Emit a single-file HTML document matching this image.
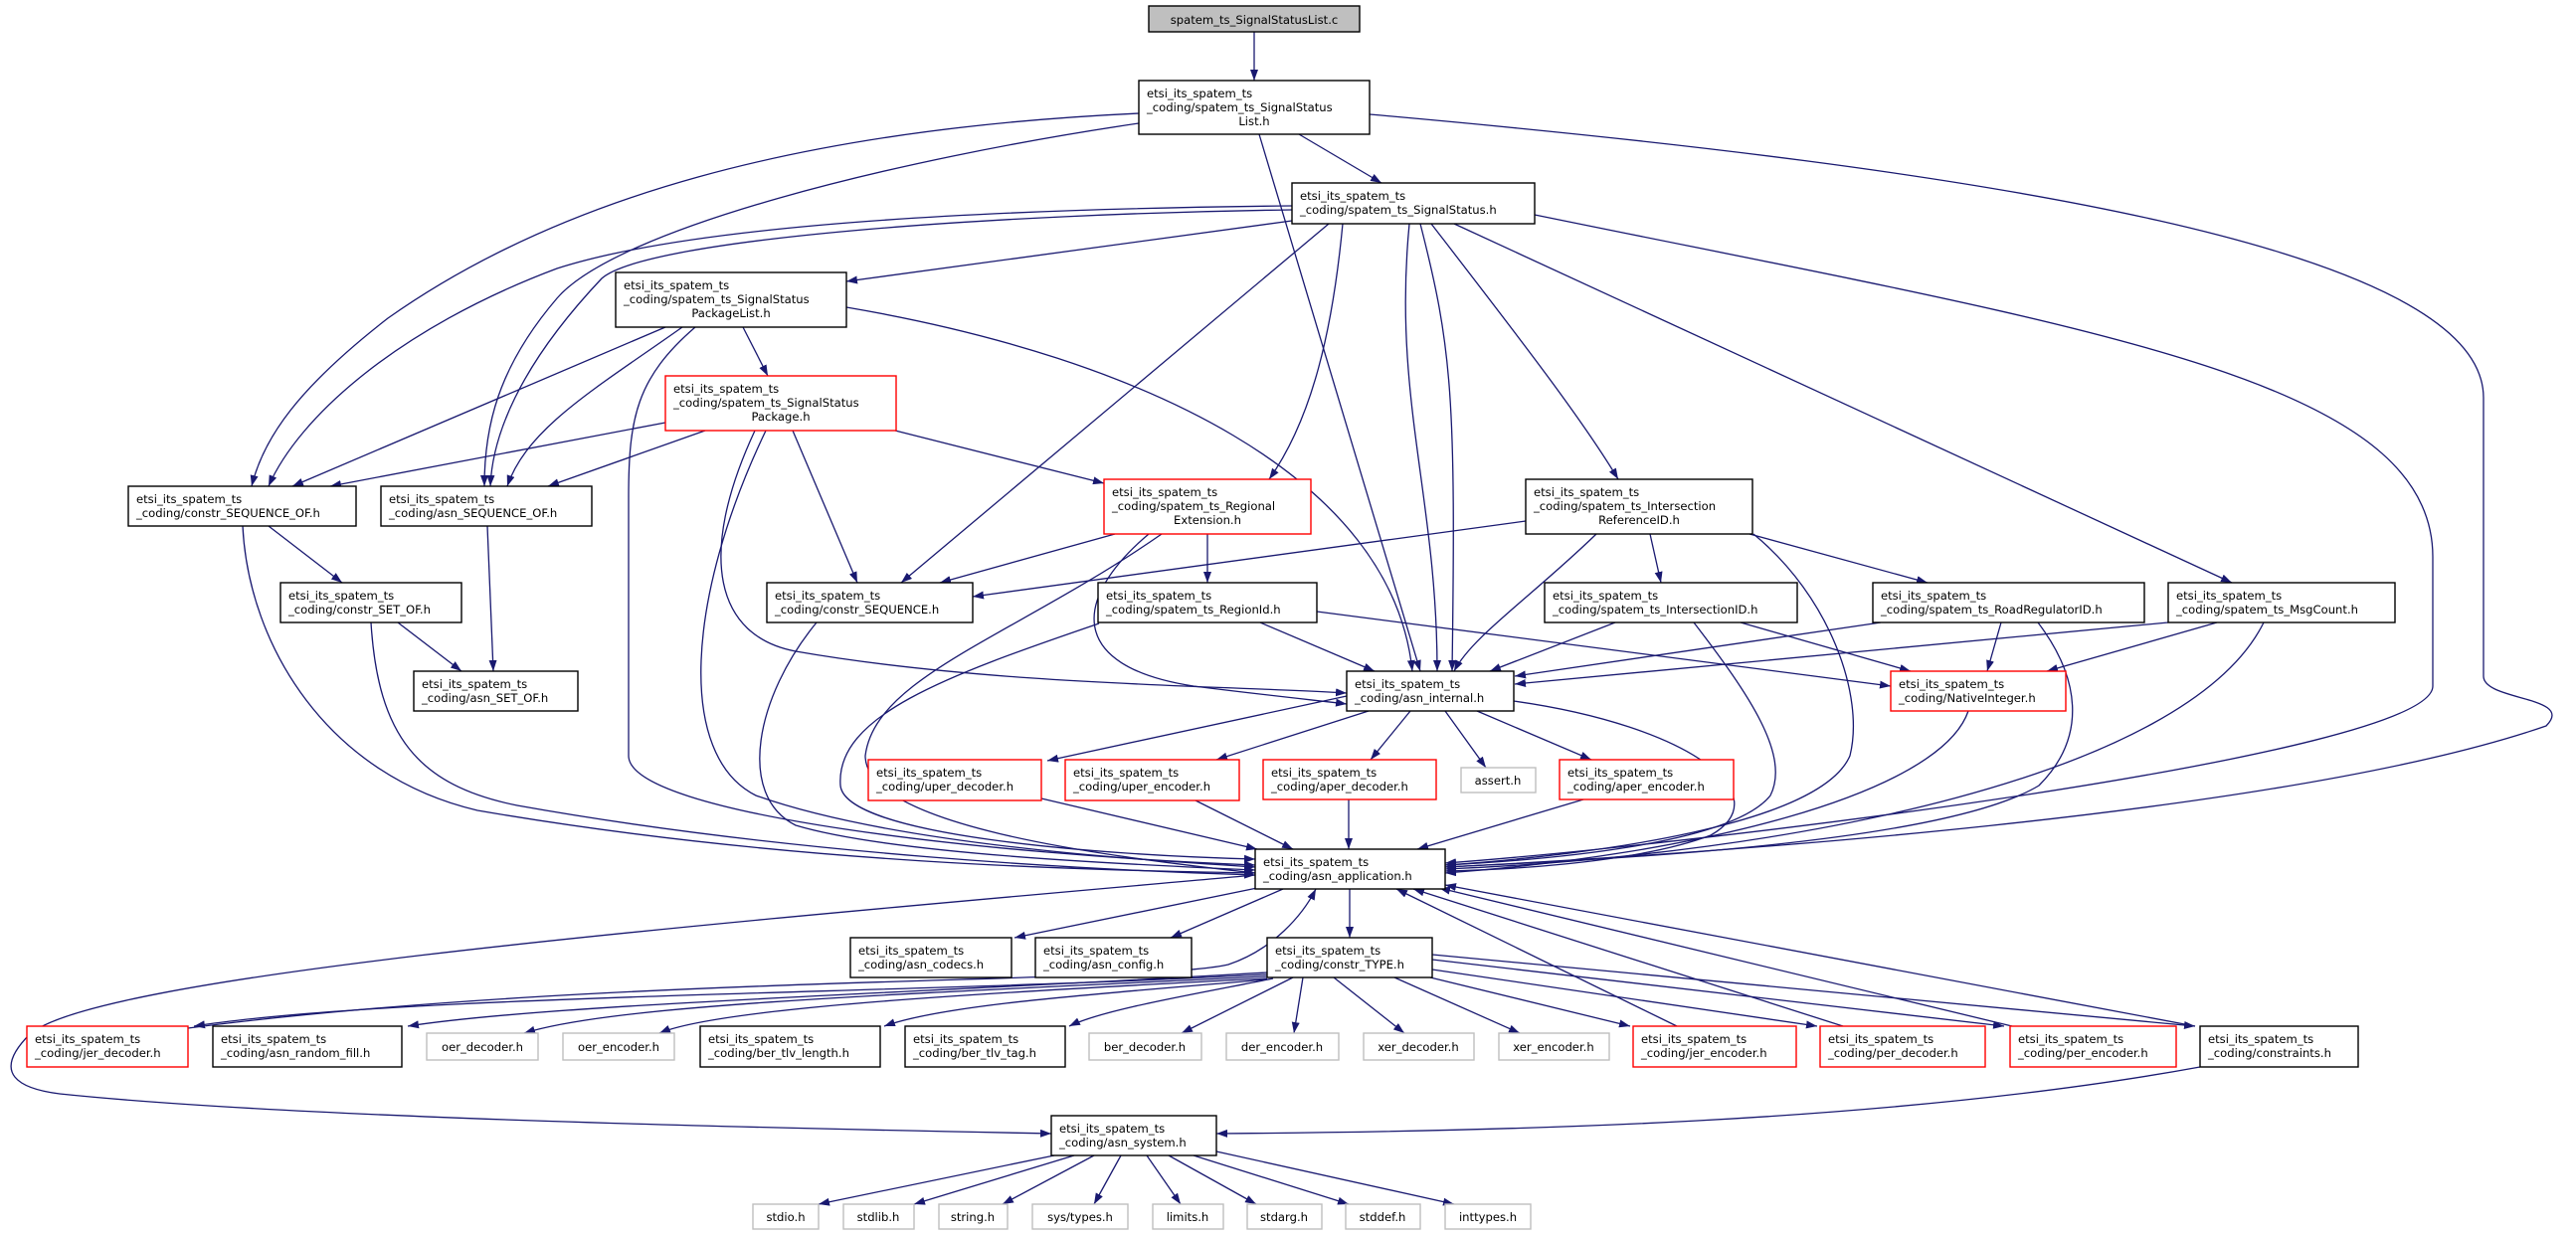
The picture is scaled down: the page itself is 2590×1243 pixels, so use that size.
<!DOCTYPE html>
<html><head><meta charset="utf-8"><style>
html,body{margin:0;padding:0;background:#fff;}
svg{display:block}
text{font-family:"DejaVu Sans","Liberation Sans",sans-serif;font-size:11.6px;fill:#000}
.b{fill:#fff;stroke:#000;stroke-width:1.4}
.r{fill:#fff;stroke:#ff0000;stroke-width:1.4}
.g{fill:#fff;stroke:#bfbfbf;stroke-width:1.4}
.e{fill:none;stroke:#191970;stroke-width:1.3;marker-end:url(#a)}
</style></head><body>
<svg width="2590" height="1243" viewBox="0 0 2590 1243" xmlns="http://www.w3.org/2000/svg">
<defs><marker id="a" markerUnits="userSpaceOnUse" markerWidth="11" markerHeight="8" refX="11" refY="4" orient="auto"><path d="M0,0 L11,4 L0,8 z" fill="#191970"/></marker></defs>
<g>
<path class="e" d="M1261 32 L1261 81"/>
<path class="e" d="M1306 135 L1389 184"/>
<path class="e" d="M1145 114 C800 130,560 200,390 320 C300 390,265 440,253 489"/>
<path class="e" d="M1145 124 C900 160,620 230,560 300 C500 370,487 430,487 489"/>
<path class="e" d="M1266 135 L1428 675"/>
<path class="e" d="M1377 115 C2000 170,2497 250,2497 400 L2497 680 C2497 705,2590 700,2560 730 C2300 820,1700 860,1453 872"/>
<path class="e" d="M1543 216 C2100 330,2446 380,2446 560 L2446 690 C2446 760,1700 850,1453 868"/>
<path class="e" d="M1299 222 L851 283"/>
<path class="e" d="M1299 207 C1000 210,700 225,560 270 C400 330,300 420,270 489"/>
<path class="e" d="M1299 211 C1000 215,650 240,605 280 C520 370,495 440,493 489"/>
<path class="e" d="M1336 225 L906 586"/>
<path class="e" d="M797 433 L862 586"/>
<path class="e" d="M1121 537 L945 586"/>
<path class="e" d="M1534 524 L978 600"/>
<path class="e" d="M1350 225 C1340 330,1320 420,1276 482"/>
<path class="e" d="M1417 225 C1400 400,1445 500,1445 675"/>
<path class="e" d="M1428 225 C1460 350,1464 400,1460 675"/>
<path class="e" d="M1439 225 C1520 330,1590 420,1627 482"/>
<path class="e" d="M1462 225 L2244 586"/>
<path class="e" d="M747 329 L772 378"/>
<path class="e" d="M669 329 L294 489"/>
<path class="e" d="M686 329 C600 390,530 430,510 489"/>
<path class="e" d="M851 309 C1150 360,1400 480,1420 675"/>
<path class="e" d="M699 329 C640 380,632 420,632 500 L632 760 C632 820,1000 860,1262 870"/>
<path class="e" d="M669 425 L332 489"/>
<path class="e" d="M709 433 L551 489"/>
<path class="e" d="M900 433 L1110 486"/>
<path class="e" d="M759 433 C700 560,720 640,800 655 C1000 690,1250 690,1354 697"/>
<path class="e" d="M770 433 C690 600,680 760,760 800 C900 850,1150 865,1262 872"/>
<path class="e" d="M1214 537 L1214 586"/>
<path class="e" d="M1155 537 C1080 600,1070 670,1200 690 C1280 700,1330 705,1354 708"/>
<path class="e" d="M1168 537 C1020 640,880 680,870 760 C870 830,1100 860,1262 878"/>
<path class="e" d="M270 529 L344 586"/>
<path class="e" d="M244 529 C250 650,330 780,480 815 C800 870,1100 875,1262 878"/>
<path class="e" d="M490 529 L496 675"/>
<path class="e" d="M400 626 L464 675"/>
<path class="e" d="M373 626 C380 740,420 790,520 810 C800 860,1100 875,1262 880"/>
<path class="e" d="M821 626 C760 700,740 800,800 830 C900 860,1150 870,1262 875"/>
<path class="e" d="M1267 626 L1382 675"/>
<path class="e" d="M1324 615 L1901 690"/>
<path class="e" d="M1105 627 C950 680,840 720,845 790 C850 840,1100 860,1262 864"/>
<path class="e" d="M1605 537 C1540 600,1480 640,1462 675"/>
<path class="e" d="M1659 537 L1670 586"/>
<path class="e" d="M1759 537 L1938 586"/>
<path class="e" d="M1763 537 C1840 600,1875 700,1860 760 C1830 830,1600 860,1453 870"/>
<path class="e" d="M1624 626 L1498 675"/>
<path class="e" d="M1750 626 L1921 675"/>
<path class="e" d="M1703 626 C1760 700,1800 760,1780 800 C1740 850,1550 865,1453 870"/>
<path class="e" d="M1891 626 L1523 680"/>
<path class="e" d="M2012 626 L1998 675"/>
<path class="e" d="M2049 626 C2090 680,2100 740,2050 790 C1950 850,1600 865,1453 872"/>
<path class="e" d="M2180 626 L1523 688"/>
<path class="e" d="M2229 626 L2058 675"/>
<path class="e" d="M2276 626 C2200 780,1800 860,1453 874"/>
<path class="e" d="M1979 715 C1950 800,1700 860,1453 878"/>
<path class="e" d="M1354 700 L1053 765"/>
<path class="e" d="M1376 715 L1223 764"/>
<path class="e" d="M1418 715 L1378 764"/>
<path class="e" d="M1453 715 L1494 772"/>
<path class="e" d="M1485 715 L1600 764"/>
<path class="e" d="M1522 705 C1700 730,1790 800,1720 840 C1640 870,1500 875,1453 876"/>
<path class="e" d="M1047 803 L1264 854"/>
<path class="e" d="M1202 805 L1300 854"/>
<path class="e" d="M1356 804 L1356 854"/>
<path class="e" d="M1592 804 L1425 854"/>
<path class="e" d="M1264 893 L1020 943"/>
<path class="e" d="M1290 894 L1177 943"/>
<path class="e" d="M1357 894 L1357 943"/>
<path class="e" d="M1262 880 C700 930,100 980,30 1040 C-10 1080,20 1095,60 1100 C300 1125,800 1135,1057 1140"/>
<path class="e" d="M1274 980 C900 1000,400 1000,195 1032"/>
<path class="e" d="M1274 978 C900 1000,550 1010,410 1032"/>
<path class="e" d="M1274 982 C900 1000,620 1010,527 1039"/>
<path class="e" d="M1274 984 C950 1000,720 1015,663 1039"/>
<path class="e" d="M1274 985 C1100 1000,950 1010,889 1032"/>
<path class="e" d="M1280 984 C1200 1000,1110 1015,1075 1032"/>
<path class="e" d="M1300 983 L1188 1039"/>
<path class="e" d="M1310 983 L1301 1039"/>
<path class="e" d="M1341 983 L1412 1039"/>
<path class="e" d="M1402 983 L1528 1039"/>
<path class="e" d="M1438 983 L1639 1032"/>
<path class="e" d="M1440 975 L1827 1032"/>
<path class="e" d="M1440 965 L2015 1032"/>
<path class="e" d="M1440 960 L2207 1032"/>
<path class="e" d="M189 1034 C600 980,1150 990,1235 970 C1280 955,1310 920,1323 894"/>
<path class="e" d="M1686 1032 L1404 894"/>
<path class="e" d="M1853 1032 L1421 894"/>
<path class="e" d="M2023 1032 L1447 893"/>
<path class="e" d="M2207 1032 L1453 890"/>
<path class="e" d="M2212 1073 C1900 1130,1500 1138,1223 1140"/>
<path class="e" d="M1060 1162 L823 1211"/>
<path class="e" d="M1080 1162 L919 1211"/>
<path class="e" d="M1100 1162 L1008 1211"/>
<path class="e" d="M1127 1162 L1100 1211"/>
<path class="e" d="M1153 1162 L1187 1211"/>
<path class="e" d="M1175 1162 L1263 1211"/>
<path class="e" d="M1200 1162 L1356 1211"/>
<path class="e" d="M1223 1158 L1462 1211"/>
</g>
<g>
<rect x="1155" y="6" width="212" height="26" fill="#bfbfbf" stroke="#000" stroke-width="1.4"/>
<text x="1261" y="24" text-anchor="middle">spatem_ts_SignalStatusList.c</text>

<rect class="b" x="1145" y="81" width="232" height="54"/>
<text x="1153" y="98">etsi_its_spatem_ts</text><text x="1153" y="112">_coding/spatem_ts_SignalStatus</text><text x="1261" y="126" text-anchor="middle">List.h</text>

<rect class="b" x="1299" y="184" width="244" height="41"/>
<text x="1307" y="201">etsi_its_spatem_ts</text><text x="1307" y="215">_coding/spatem_ts_SignalStatus.h</text>

<rect class="b" x="619" y="274" width="232" height="55"/>
<text x="627" y="291">etsi_its_spatem_ts</text><text x="627" y="305">_coding/spatem_ts_SignalStatus</text><text x="735" y="319" text-anchor="middle">PackageList.h</text>

<rect class="r" x="669" y="378" width="232" height="55"/>
<text x="677" y="395">etsi_its_spatem_ts</text><text x="677" y="409">_coding/spatem_ts_SignalStatus</text><text x="785" y="423" text-anchor="middle">Package.h</text>

<rect class="b" x="129" y="489" width="229" height="40"/>
<text x="137" y="506">etsi_its_spatem_ts</text><text x="137" y="520">_coding/constr_SEQUENCE_OF.h</text>

<rect class="b" x="383" y="489" width="212" height="40"/>
<text x="391" y="506">etsi_its_spatem_ts</text><text x="391" y="520">_coding/asn_SEQUENCE_OF.h</text>

<rect class="b" x="282" y="586" width="182" height="40"/>
<text x="290" y="603">etsi_its_spatem_ts</text><text x="290" y="617">_coding/constr_SET_OF.h</text>

<rect class="b" x="416" y="675" width="165" height="40"/>
<text x="424" y="692">etsi_its_spatem_ts</text><text x="424" y="706">_coding/asn_SET_OF.h</text>

<rect class="b" x="771" y="586" width="207" height="40"/>
<text x="779" y="603">etsi_its_spatem_ts</text><text x="779" y="617">_coding/constr_SEQUENCE.h</text>

<rect class="r" x="1110" y="482" width="208" height="55"/>
<text x="1118" y="499">etsi_its_spatem_ts</text><text x="1118" y="513">_coding/spatem_ts_Regional</text><text x="1214" y="527" text-anchor="middle">Extension.h</text>

<rect class="b" x="1534" y="482" width="228" height="55"/>
<text x="1542" y="499">etsi_its_spatem_ts</text><text x="1542" y="513">_coding/spatem_ts_Intersection</text><text x="1648" y="527" text-anchor="middle">ReferenceID.h</text>

<rect class="b" x="1104" y="586" width="220" height="40"/>
<text x="1112" y="603">etsi_its_spatem_ts</text><text x="1112" y="617">_coding/spatem_ts_RegionId.h</text>

<rect class="b" x="1553" y="586" width="254" height="40"/>
<text x="1561" y="603">etsi_its_spatem_ts</text><text x="1561" y="617">_coding/spatem_ts_IntersectionID.h</text>

<rect class="b" x="1883" y="586" width="273" height="40"/>
<text x="1891" y="603">etsi_its_spatem_ts</text><text x="1891" y="617">_coding/spatem_ts_RoadRegulatorID.h</text>

<rect class="b" x="2180" y="586" width="228" height="40"/>
<text x="2188" y="603">etsi_its_spatem_ts</text><text x="2188" y="617">_coding/spatem_ts_MsgCount.h</text>

<rect class="b" x="1354" y="675" width="168" height="40"/>
<text x="1362" y="692">etsi_its_spatem_ts</text><text x="1362" y="706">_coding/asn_internal.h</text>

<rect class="r" x="1901" y="675" width="176" height="40"/>
<text x="1909" y="692">etsi_its_spatem_ts</text><text x="1909" y="706">_coding/NativeInteger.h</text>

<rect class="r" x="873" y="764" width="174" height="41"/>
<text x="881" y="781">etsi_its_spatem_ts</text><text x="881" y="795">_coding/uper_decoder.h</text>

<rect class="r" x="1071" y="764" width="175" height="41"/>
<text x="1079" y="781">etsi_its_spatem_ts</text><text x="1079" y="795">_coding/uper_encoder.h</text>

<rect class="r" x="1270" y="764" width="174" height="40"/>
<text x="1278" y="781">etsi_its_spatem_ts</text><text x="1278" y="795">_coding/aper_decoder.h</text>

<rect class="g" x="1469" y="772" width="75" height="25"/>
<text x="1506" y="789" text-anchor="middle">assert.h</text>

<rect class="r" x="1568" y="764" width="175" height="40"/>
<text x="1576" y="781">etsi_its_spatem_ts</text><text x="1576" y="795">_coding/aper_encoder.h</text>

<rect class="b" x="1262" y="854" width="191" height="40"/>
<text x="1270" y="871">etsi_its_spatem_ts</text><text x="1270" y="885">_coding/asn_application.h</text>

<rect class="b" x="855" y="943" width="162" height="40"/>
<text x="863" y="960">etsi_its_spatem_ts</text><text x="863" y="974">_coding/asn_codecs.h</text>

<rect class="b" x="1041" y="943" width="157" height="40"/>
<text x="1049" y="960">etsi_its_spatem_ts</text><text x="1049" y="974">_coding/asn_config.h</text>

<rect class="b" x="1274" y="943" width="166" height="40"/>
<text x="1282" y="960">etsi_its_spatem_ts</text><text x="1282" y="974">_coding/constr_TYPE.h</text>

<rect class="r" x="27" y="1032" width="162" height="41"/>
<text x="35" y="1049">etsi_its_spatem_ts</text><text x="35" y="1063">_coding/jer_decoder.h</text>

<rect class="b" x="214" y="1032" width="190" height="41"/>
<text x="222" y="1049">etsi_its_spatem_ts</text><text x="222" y="1063">_coding/asn_random_fill.h</text>

<rect class="g" x="429" y="1039" width="112" height="27"/>
<text x="485" y="1057" text-anchor="middle">oer_decoder.h</text>

<rect class="g" x="566" y="1039" width="112" height="27"/>
<text x="622" y="1057" text-anchor="middle">oer_encoder.h</text>

<rect class="b" x="704" y="1032" width="181" height="41"/>
<text x="712" y="1049">etsi_its_spatem_ts</text><text x="712" y="1063">_coding/ber_tlv_length.h</text>

<rect class="b" x="910" y="1032" width="161" height="41"/>
<text x="918" y="1049">etsi_its_spatem_ts</text><text x="918" y="1063">_coding/ber_tlv_tag.h</text>

<rect class="g" x="1095" y="1039" width="113" height="27"/>
<text x="1151" y="1057" text-anchor="middle">ber_decoder.h</text>

<rect class="g" x="1233" y="1039" width="113" height="27"/>
<text x="1289" y="1057" text-anchor="middle">der_encoder.h</text>

<rect class="g" x="1371" y="1039" width="111" height="27"/>
<text x="1426" y="1057" text-anchor="middle">xer_decoder.h</text>

<rect class="g" x="1507" y="1039" width="111" height="27"/>
<text x="1562" y="1057" text-anchor="middle">xer_encoder.h</text>

<rect class="r" x="1642" y="1032" width="164" height="41"/>
<text x="1650" y="1049">etsi_its_spatem_ts</text><text x="1650" y="1063">_coding/jer_encoder.h</text>

<rect class="r" x="1830" y="1032" width="166" height="41"/>
<text x="1838" y="1049">etsi_its_spatem_ts</text><text x="1838" y="1063">_coding/per_decoder.h</text>

<rect class="r" x="2021" y="1032" width="167" height="41"/>
<text x="2029" y="1049">etsi_its_spatem_ts</text><text x="2029" y="1063">_coding/per_encoder.h</text>

<rect class="b" x="2212" y="1032" width="159" height="41"/>
<text x="2220" y="1049">etsi_its_spatem_ts</text><text x="2220" y="1063">_coding/constraints.h</text>

<rect class="b" x="1057" y="1122" width="166" height="40"/>
<text x="1065" y="1139">etsi_its_spatem_ts</text><text x="1065" y="1153">_coding/asn_system.h</text>

<rect class="g" x="757" y="1211" width="66" height="25"/><text x="790" y="1228" text-anchor="middle">stdio.h</text>
<rect class="g" x="848" y="1211" width="71" height="25"/><text x="883" y="1228" text-anchor="middle">stdlib.h</text>
<rect class="g" x="944" y="1211" width="69" height="25"/><text x="978" y="1228" text-anchor="middle">string.h</text>
<rect class="g" x="1038" y="1211" width="96" height="25"/><text x="1086" y="1228" text-anchor="middle">sys/types.h</text>
<rect class="g" x="1159" y="1211" width="71" height="25"/><text x="1194" y="1228" text-anchor="middle">limits.h</text>
<rect class="g" x="1254" y="1211" width="75" height="25"/><text x="1291" y="1228" text-anchor="middle">stdarg.h</text>
<rect class="g" x="1353" y="1211" width="75" height="25"/><text x="1390" y="1228" text-anchor="middle">stddef.h</text>
<rect class="g" x="1453" y="1211" width="86" height="25"/><text x="1496" y="1228" text-anchor="middle">inttypes.h</text>
</g>
</svg>
</body></html>
